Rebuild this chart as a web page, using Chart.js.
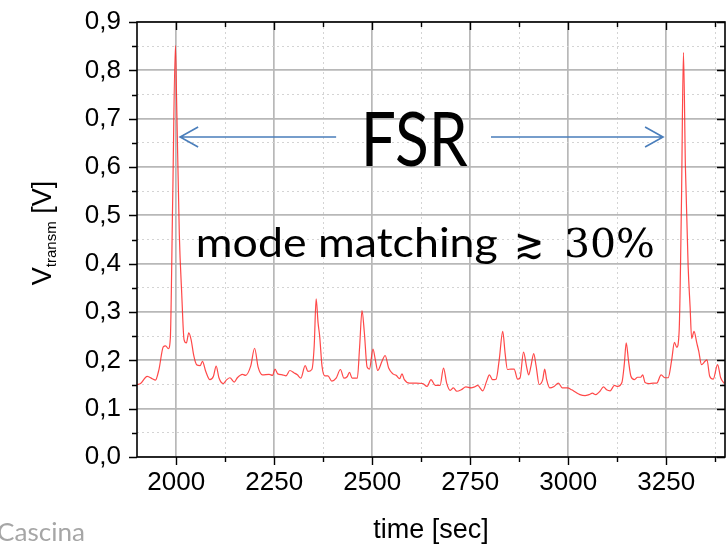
<!DOCTYPE html>
<html>
<head>
<meta charset="utf-8">
<script src="https://cdn.jsdelivr.net/npm/chart.js@4.4.1/dist/chart.umd.min.js"></script>
<style>
  html, body { margin: 0; padding: 0; background: #ffffff; }
  #wrap { position: relative; width: 726px; height: 547px; }
</style>
</head>
<body>
<div id="wrap"><canvas id="scan" width="726" height="547"></canvas></div>
<script>
// transmitted signal vs time
const times = [
  1900, 1909, 1926, 1939, 1947, 1956, 1967, 1973, 1980, 1985, 1991, 1998, 2001, 2008, 2014,
  2020, 2026, 2032, 2038, 2045, 2052, 2061, 2067, 2075, 2086, 2095, 2102, 2109, 2120, 2129,
  2137, 2148, 2156, 2169, 2177, 2190, 2200, 2209, 2220, 2237, 2246, 2252, 2259, 2271, 2280,
  2290, 2301, 2309, 2318, 2329, 2336, 2346, 2352, 2357, 2362, 2366, 2372, 2379, 2387, 2397,
  2408, 2419, 2428, 2436, 2442, 2449, 2462, 2468, 2474, 2480, 2487, 2493, 2502, 2508, 2514,
  2525, 2533, 2542, 2553, 2561, 2570, 2576, 2582, 2595, 2612, 2629, 2640, 2650, 2661, 2673,
  2682, 2690, 2699, 2707, 2716, 2727, 2739, 2752, 2761, 2769, 2782, 2792, 2799, 2807, 2816,
  2824, 2833, 2839, 2845, 2854, 2862, 2871, 2877, 2886, 2894, 2899, 2905, 2912, 2918, 2926,
  2935, 2940, 2945, 2953, 2964, 2975, 2985, 2998, 3009, 3019, 3030, 3043, 3053, 3062, 3070,
  3081, 3090, 3098, 3107, 3118, 3126, 3137, 3143, 3148, 3154, 3160, 3169, 3177, 3185, 3190,
  3196, 3206, 3217, 3226, 3237, 3247, 3255, 3264, 3271, 3277, 3283, 3289, 3294, 3299, 3306,
  3311, 3315, 3321, 3328, 3333, 3340, 3349, 3354, 3361, 3370, 3381, 3389, 3398
];
const volts = [
  0.150, 0.152, 0.167, 0.162, 0.159, 0.181, 0.228, 0.230, 0.224, 0.245, 0.530, 0.851, 0.740, 0.460, 0.340,
  0.243, 0.236, 0.257, 0.243, 0.209, 0.191, 0.189, 0.198, 0.178, 0.160, 0.167, 0.188, 0.164, 0.152, 0.160,
  0.164, 0.155, 0.164, 0.171, 0.169, 0.188, 0.225, 0.186, 0.170, 0.171, 0.169, 0.182, 0.172, 0.170, 0.168,
  0.179, 0.174, 0.170, 0.163, 0.189, 0.177, 0.181, 0.229, 0.327, 0.277, 0.250, 0.188, 0.168, 0.168, 0.157,
  0.163, 0.181, 0.163, 0.166, 0.175, 0.163, 0.163, 0.229, 0.303, 0.257, 0.186, 0.182, 0.223, 0.201, 0.179,
  0.198, 0.210, 0.184, 0.172, 0.169, 0.162, 0.172, 0.160, 0.153, 0.153, 0.152, 0.146, 0.160, 0.148, 0.148,
  0.184, 0.153, 0.138, 0.143, 0.136, 0.139, 0.145, 0.143, 0.145, 0.148, 0.137, 0.157, 0.170, 0.160, 0.161,
  0.201, 0.260, 0.215, 0.181, 0.182, 0.182, 0.161, 0.163, 0.217, 0.186, 0.170, 0.188, 0.214, 0.189, 0.150,
  0.160, 0.182, 0.160, 0.143, 0.146, 0.153, 0.143, 0.143, 0.139, 0.134, 0.129, 0.127, 0.129, 0.132, 0.129,
  0.136, 0.145, 0.139, 0.137, 0.148, 0.146, 0.154, 0.191, 0.236, 0.198, 0.167, 0.160, 0.165, 0.165, 0.170,
  0.154, 0.152, 0.153, 0.153, 0.170, 0.164, 0.164, 0.201, 0.237, 0.227, 0.260, 0.530, 0.837, 0.600, 0.394,
  0.310, 0.245, 0.260, 0.236, 0.219, 0.191, 0.198, 0.201, 0.167, 0.161, 0.191, 0.164, 0.152
];

const xMajorTicks = [2000, 2250, 2500, 2750, 3000, 3250];
const xMinorTicks = [2125, 2375, 2625, 2875, 3125, 3375];
const yMajorTicks = [0, 0.1, 0.2, 0.3, 0.4, 0.5, 0.6, 0.7, 0.8, 0.9];
const yMinorTicks = [0.05, 0.15, 0.25, 0.35, 0.45, 0.55, 0.65, 0.75, 0.85];

const isMajorX = v => xMajorTicks.some(t => Math.abs(t - v) < 1e-6);
const isMajorY = v => yMajorTicks.some(t => Math.abs(t - v) < 1e-6);

const FONT = '"Liberation Sans", Arial, sans-serif';
const SLIDE = 'Lato, "Open Sans", sans-serif';

// draw text squeezed/stretched to a given width (the slide font was narrower than ours)
function fitText(ctx, text, font, x, base, width) {
  ctx.font = font;
  const w = ctx.measureText(text).width;
  ctx.save();
  ctx.translate(x, base);
  ctx.scale(width / w, 1);
  ctx.fillText(text, 0, 0);
  ctx.restore();
}

// frame, tick marks (out on bottom/left, in on top/right), axis title and notes
const decor = {
  id: 'decor',
  afterDraw(chart) {
    const { ctx, chartArea: a, scales: { x, y } } = chart;
    ctx.save();
    ctx.strokeStyle = '#000';
    ctx.lineWidth = 1.6;
    ctx.strokeRect(a.left, a.top, a.right - a.left, a.bottom - a.top);

    ctx.lineWidth = 1.4;
    ctx.beginPath();
    x.ticks.forEach(t => {
      const px = Math.round(x.getPixelForValue(t.value)) + 0.5;
      const len = isMajorX(t.value) ? 8 : 5;
      ctx.moveTo(px, a.bottom); ctx.lineTo(px, a.bottom + len);
      ctx.moveTo(px, a.top); ctx.lineTo(px, a.top + len);
    });
    y.ticks.forEach(t => {
      const py = Math.round(y.getPixelForValue(t.value)) + 0.5;
      const len = isMajorY(t.value) ? 8 : 5;
      ctx.moveTo(a.left, py); ctx.lineTo(a.left - len, py);
      ctx.moveTo(a.right, py); ctx.lineTo(a.right - len, py);
    });
    ctx.stroke();

    // y axis title with subscript
    ctx.fillStyle = '#000';
    ctx.translate(41, 233);
    ctx.rotate(-Math.PI / 2);
    ctx.textBaseline = 'alphabetic';
    ctx.textAlign = 'left';
    const big = '27px ' + FONT, small = '15px ' + FONT;
    ctx.font = big; const wV = ctx.measureText('V').width; const wU = ctx.measureText(' [V]').width;
    ctx.font = small; const wS = ctx.measureText('transm').width;
    let cx = -(wV + wS + wU) / 2;
    ctx.font = big; ctx.fillText('V', cx, 10); cx += wV;
    ctx.font = small; ctx.fillText('transm', cx, 15); cx += wS;
    ctx.font = big; ctx.fillText(' [V]', cx, 10);
    ctx.restore();

    // notes on the chart
    ctx.save();
    const arrowY = y.getPixelForValue(0.662);
    ctx.strokeStyle = '#4a7ebb';
    ctx.lineWidth = 1.6;
    const arrow = (from, to) => {
      const x0 = x.getPixelForValue(from), x1 = x.getPixelForValue(to);
      const dir = Math.sign(x1 - x0);
      ctx.beginPath();
      ctx.moveTo(x0, arrowY); ctx.lineTo(x1, arrowY);
      ctx.moveTo(x1 - dir * 18, arrowY - 10); ctx.lineTo(x1, arrowY); ctx.lineTo(x1 - dir * 18, arrowY + 10);
      ctx.stroke();
    };
    arrow(2408, 2010);
    arrow(2803, 3242);

    ctx.fillStyle = '#000';
    ctx.textAlign = 'left';
    ctx.textBaseline = 'alphabetic';
    fitText(ctx, 'FSR', '75px ' + SLIDE, x.getPixelForValue(2471), y.getPixelForValue(0.602), 107);

    const base = y.getPixelForValue(0.414);
    fitText(ctx, 'mode matching', '41px ' + SLIDE, x.getPixelForValue(2050), base, 302);
    fitText(ctx, '\u2273', '42px "DejaVu Serif", serif', x.getPixelForValue(2862), base + 1, 30);
    fitText(ctx, '30%', '39px "DejaVu Serif", serif', x.getPixelForValue(2989), base, 91);

    ctx.fillStyle = '#a6a6a6';
    fitText(ctx, 'Cascina', '25px ' + SLIDE, -3, 541, 88);
    ctx.restore();
  }
};

const ctx = document.getElementById('scan').getContext('2d');
new Chart(ctx, {
  type: 'scatter',
  data: {
    datasets: [{
      data: times.map((t, i) => ({ x: t, y: volts[i] })),
      showLine: true,
      borderColor: 'rgba(255, 40, 40, 0.85)',
      borderWidth: 1.2,
      pointRadius: 0,
      cubicInterpolationMode: 'monotone'
    }]
  },
  options: {
    responsive: false,
    animation: false,
    layout: { padding: { top: 22, right: 1, left: 0, bottom: 0 } },
    plugins: { legend: { display: false }, tooltip: { enabled: false } },
    scales: {
      x: {
        type: 'linear',
        min: 1900,
        max: 3400,
        afterBuildTicks: s => { s.ticks = [...xMajorTicks, ...xMinorTicks].sort((a, b) => a - b).map(v => ({ value: v })); },
        afterFit: s => { s.height = 90; s.paddingLeft = 0; s.paddingRight = 0; },
        grid: {
          drawTicks: false,
          color: c => isMajorX(c.tick.value) ? '#b8b8b8' : '#d4d4d4',
          lineWidth: c => isMajorX(c.tick.value) ? 1.7 : 1
        },
        border: { display: false, dash: c => (c.tick && !isMajorX(c.tick.value)) ? [2, 3] : [] },
        ticks: {
          color: '#000',
          padding: 10,
          maxRotation: 0,
          autoSkip: false,
          font: { family: FONT, size: 26 },
          callback: v => isMajorX(v) ? String(v) : ''
        },
        title: {
          display: true,
          text: 'time [sec]',
          color: '#000',
          font: { family: FONT, size: 27 },
          padding: { top: 0, bottom: 0 }
        }
      },
      y: {
        min: 0,
        max: 0.9,
        afterBuildTicks: s => { s.ticks = [...yMajorTicks, ...yMinorTicks].sort((a, b) => a - b).map(v => ({ value: v })); },
        afterFit: s => { s.width = 137; s.paddingTop = 0; s.paddingBottom = 0; },
        grid: {
          drawTicks: false,
          color: c => isMajorY(c.tick.value) ? '#b8b8b8' : '#d4d4d4',
          lineWidth: c => isMajorY(c.tick.value) ? 1.7 : 1
        },
        border: { display: false, dash: c => (c.tick && !isMajorY(c.tick.value)) ? [2, 3] : [] },
        ticks: {
          color: '#000',
          padding: 16,
          autoSkip: false,
          font: { family: FONT, size: 26 },
          callback: v => isMajorY(v) ? v.toFixed(1).replace('.', ',') : ''
        }
      }
    }
  },
  plugins: [decor]
});
</script>
</body>
</html>
